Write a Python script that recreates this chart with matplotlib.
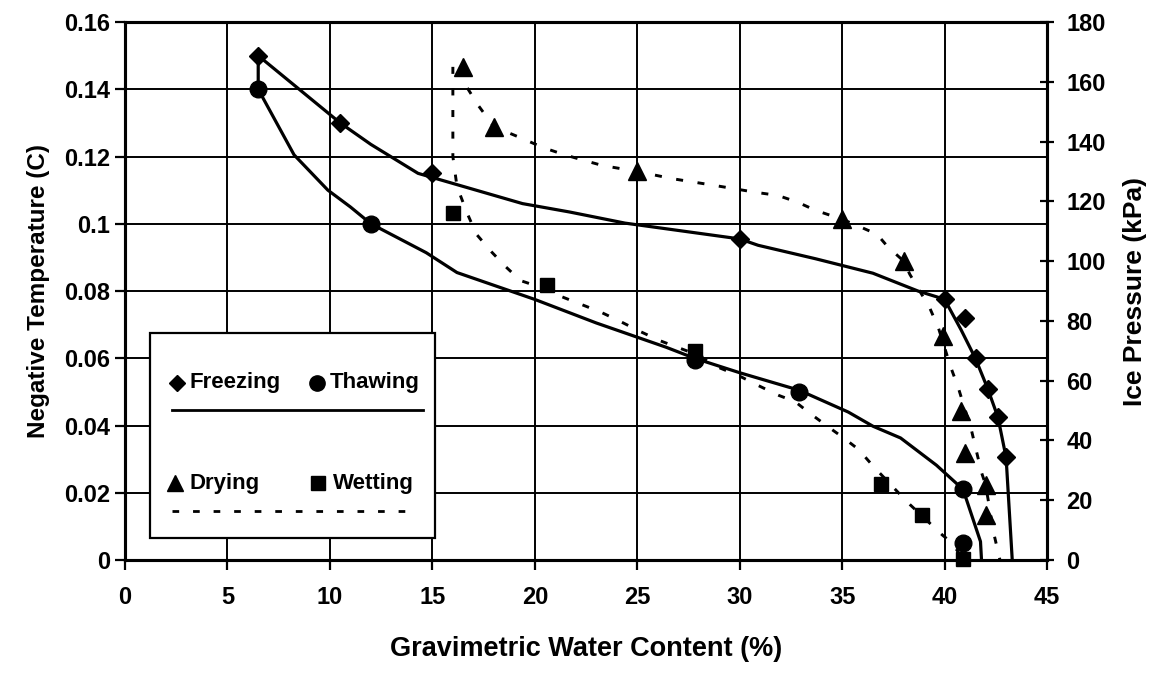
"""Soil freezing/thawing and drying/wetting characteristic curves."""

import matplotlib

matplotlib.use("Agg")
import matplotlib.pyplot as plt
from matplotlib.patches import Rectangle
from matplotlib.ticker import FuncFormatter, MultipleLocator

plt.rcParams["font.family"] = ["Liberation Sans", "DejaVu Sans"]

# measured points, temperature axis (C)
freeze_w = [6.5, 10.5, 15.0, 30.0, 40.0, 41.0, 41.55, 42.1, 42.6, 43.0]
freeze_t = [0.150, 0.130, 0.115, 0.0955, 0.0775, 0.072, 0.060, 0.051, 0.0425, 0.0305]
thaw_w = [6.5, 12.0, 27.8, 32.9, 40.9, 40.9]
thaw_t = [0.140, 0.100, 0.0595, 0.050, 0.021, 0.005]

# measured points, ice pressure axis (kPa)
dry_w = [16.5, 18.0, 25.0, 35.0, 38.0, 39.9, 40.8, 41.0, 42.0, 42.0]
dry_p = [165, 145, 130, 114, 100, 75, 50, 35.7, 25.2, 15]
wet_w = [16.0, 20.6, 27.8, 36.9, 38.9, 40.9]
wet_p = [116, 92, 70, 25.6, 15.2, 0.5]

# fitted curves
freeze_fit_w = [6.5, 10.5, 12.0, 14.3, 19.4, 21.7, 24.4, 30.0, 30.9, 33.7, 36.5,
                38.7, 39.6, 40.0, 40.8, 41.5, 42.1, 42.6, 43.0, 43.3]
freeze_fit_t = [0.150, 0.130, 0.1236, 0.1150, 0.1060, 0.1035, 0.1002, 0.0955, 0.0936,
                0.0896, 0.0853, 0.0800, 0.0783, 0.0775, 0.0685, 0.0600, 0.0510,
                0.0425, 0.0305, 0.0]
thaw_fit_w = [6.5, 6.5, 8.25, 9.9, 11.0, 12.0, 14.7, 16.2, 20.0, 23.0, 26.4, 27.8,
              30.0, 32.9, 35.3, 36.5, 37.85, 39.6, 40.9, 41.75, 41.8]
thaw_fit_t = [0.150, 0.140, 0.1205, 0.110, 0.105, 0.100, 0.0914, 0.0855, 0.0775,
              0.0705, 0.0633, 0.060, 0.0557, 0.0505, 0.044, 0.0398, 0.0363, 0.0282,
              0.021, 0.0055, 0.0]
dry_fit_w = [16.5, 16.7, 17.25, 18.0, 19.4, 20.4, 21.4, 22.3, 23.3, 25.0, 26.7, 28.8,
             30.8, 31.85, 32.8, 33.7, 35.0, 35.7, 36.7, 37.2, 38.0, 38.3, 39.27, 39.7,
             40.3, 40.65, 41.3, 41.5, 41.8, 42.0, 42.4, 42.7]
dry_fit_p = [165, 158, 152, 145, 141, 138, 135.7, 133.9, 132, 130, 127.6, 125.3, 123,
             122, 119.8, 117, 114, 112, 109, 105, 100, 95.6, 84.4, 77.6, 64.5, 58,
             43.7, 37.9, 29.3, 25.2, 8.9, 0]
wet_fit_w = [16.0, 16.0, 16.2, 16.7, 17.15, 17.9, 18.6, 19.3, 20.6, 21.2, 22.2, 23.2,
             24.15, 25.1, 26.1, 27.8, 29.05, 29.95, 30.9, 31.9, 32.7, 33.5, 34.35,
             35.1, 35.8, 36.5, 37.9, 38.3, 39.9, 40.4, 40.9]
wet_fit_p = [165, 135, 125, 116, 109, 103, 98, 93.5, 90.5, 88.4, 85.7, 83, 79.9, 76.6,
             73.4, 69, 64.2, 61.7, 58.4, 55.1, 53, 48.7, 44.4, 40.7, 37, 31.5, 21.4,
             18.6, 8.3, 5.5, 0]

DASH = (0, (2.4, 5.0))

fig = plt.figure(figsize=(11.62, 6.78), dpi=100)
ax = fig.add_axes([0.1076, 0.1740, 0.7935, 0.7935])
ax2 = ax.twinx()

ax.plot(freeze_fit_w, freeze_fit_t, color="black", lw=2.3, zorder=3)
ax.plot(thaw_fit_w, thaw_fit_t, color="black", lw=2.3, zorder=3)
ax.plot(freeze_w, freeze_t, ls="none", marker="D", ms=9, color="black", zorder=4, clip_on=False)
ax.plot(thaw_w, thaw_t, ls="none", marker="o", ms=12, color="black", zorder=4, clip_on=False)

ax2.plot(dry_fit_w, dry_fit_p, color="black", lw=2.1, ls=DASH)
ax2.plot(wet_fit_w, wet_fit_p, color="black", lw=2.1, ls=DASH)
ax2.plot(dry_w, dry_p, ls="none", marker="^", ms=12.5, color="black", clip_on=False)
ax2.plot(wet_w, wet_p, ls="none", marker="s", ms=10.5, color="black", clip_on=False)

ax.set_xlim(0, 45)
ax.set_ylim(0, 0.16)
ax2.set_ylim(0, 180)
ax.xaxis.set_major_locator(MultipleLocator(5))
ax.yaxis.set_major_locator(MultipleLocator(0.02))
ax2.yaxis.set_major_locator(MultipleLocator(20))
ax.yaxis.set_major_formatter(FuncFormatter(lambda v, _: f"{v:g}"))

ax.grid(True, color="black", lw=1.4)
ax.set_axisbelow(True)
for a in (ax, ax2):
    for s in a.spines.values():
        s.set_linewidth(2.2)

ax.tick_params(axis="x", direction="out", length=7, width=1.6, pad=12)
ax.tick_params(axis="y", direction="out", length=7, width=1.6, pad=4)
ax2.tick_params(axis="y", direction="inout", length=10, width=1.6, pad=9)
for lbl in ax.get_xticklabels() + ax.get_yticklabels() + ax2.get_yticklabels():
    lbl.set_fontsize(17)
    lbl.set_fontweight("bold")

ax.set_xlabel("Gravimetric Water Content (%)", labelpad=19, fontsize=19.5, fontweight="bold")
ax.set_ylabel("Negative Temperature (C)", labelpad=10, fontsize=17.5, fontweight="bold")
ax2.set_ylabel("Ice Pressure (kPa)", labelpad=12, fontsize=19, fontweight="bold")

# boxed key: symbols on one row, line style underneath
leg = fig.add_axes([0.1291, 0.2065, 0.2453, 0.3024])
leg.set_xlim(0, 1)
leg.set_ylim(0, 1)
leg.axis("off")
leg.add_patch(Rectangle((0, 0), 1, 1, facecolor="white", edgecolor="black", lw=1.6,
                        clip_on=False))
key_font = dict(fontsize=16, fontweight="bold", va="center", ha="left")
leg.plot([0.094], [0.756], marker="D", ms=8, color="black")
leg.text(0.140, 0.756, "Freezing", **key_font)
leg.plot([0.585], [0.756], marker="o", ms=11, color="black")
leg.text(0.632, 0.756, "Thawing", **key_font)
leg.plot([0.077, 0.958], [0.624, 0.624], color="black", lw=2.0)
leg.plot([0.088], [0.268], marker="^", ms=11.5, color="black")
leg.text(0.140, 0.268, "Drying", **key_font)
leg.plot([0.589], [0.268], marker="s", ms=10, color="black")
leg.text(0.642, 0.268, "Wetting", **key_font)
leg.plot([0.077, 0.93], [0.132, 0.132], color="black", lw=2.0, ls=DASH)

fig.savefig("out.png", dpi=100)
plt.close(fig)
